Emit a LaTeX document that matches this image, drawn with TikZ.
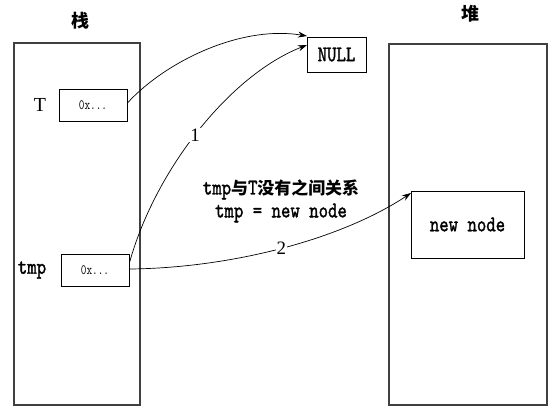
\documentclass[tikz,border=0pt]{standalone}
\usepackage{fontspec}
\setmainfont{Liberation Serif}
\newfontfamily\cjk{Noto Sans CJK SC}
\newfontfamily\heavy{lmmono10-regular}[Extension = .otf, FakeBold = 1.6]
\newcommand{\talltext}[1]{\scalebox{1}[1.25]{\heavy #1}}
\usetikzlibrary{arrows.meta}

\begin{document}
\begin{tikzpicture}[x=1bp, y=-1bp,
  mem/.style = {draw = black!75, line width = 1.2bp},
  cell/.style = {draw, line width = 0.8bp, minimum width = 68bp, minimum height = 32bp, inner sep = 0pt},
  ptr/.style = {-{Stealth[length = 9bp, width = 6bp]}, line width = 0.7bp},
  num/.style = {fill = white, inner sep = 1pt, font = \fontsize{19}{19}\selectfont}]
\useasboundingbox (0,0) rectangle (555,412);

\draw [mem] (14,43) rectangle (140,405);
\draw [mem] (389,44) rectangle (547,405);
\node (stack) at (80,21) {\cjk\bfseries\fontsize{18}{18}\selectfont 栈};
\node (heap) at (470,14) {\cjk\bfseries\fontsize{18}{18}\selectfont 堆};

\node [cell] (T) at (93,105) {\fontsize{11}{11}\selectfont\scalebox{1}[1.3]{\ttfamily 0x...}};
\node [cell] (tmp) at (95,270) {\fontsize{11}{11}\selectfont\scalebox{1}[1.3]{\ttfamily 0x...}};
\node (Tname) at (40,105) {\fontsize{20}{20}\selectfont T};
\node (tmpname) at (32,270) {\fontsize{18}{18}\selectfont\talltext{tmp}};

\node [cell, minimum width = 59bp, minimum height = 35bp] (null) at (336.5,54.5) {\fontsize{18}{18}\selectfont\talltext{NULL}};
\node [cell, minimum width = 113bp, minimum height = 67bp] (newnode) at (467.5,224.5) {\fontsize{18}{18}\selectfont\talltext{new node}};

\node [align = center, font = \fontsize{18}{23}\selectfont] (note) at (281,201)
  {\talltext{tmp}{\cjk\bfseries\fontsize{17}{23}\selectfont 与}\talltext{T}{\cjk\bfseries\fontsize{17}{23}\selectfont 没有之间关系}\\\talltext{tmp = new node}};

\coordinate (nulla) at (307,36);
\coordinate (nullb) at (307,45);
\coordinate (nodein) at (411,193);

\draw [ptr] ([yshift = 2bp]T.east) .. controls (165,62) and (240,25) .. (nulla);
\draw [ptr] ([yshift = 7bp]tmp.east) .. controls (155,170) and (230,75) .. (nullb) node [num, pos = 0.48] {1};
\draw [ptr] ([yshift = 1bp]tmp.east) .. controls (230,268) and (340,240) .. (nodein) node [num, pos = 0.5] {2};

\end{tikzpicture}
\end{document}
